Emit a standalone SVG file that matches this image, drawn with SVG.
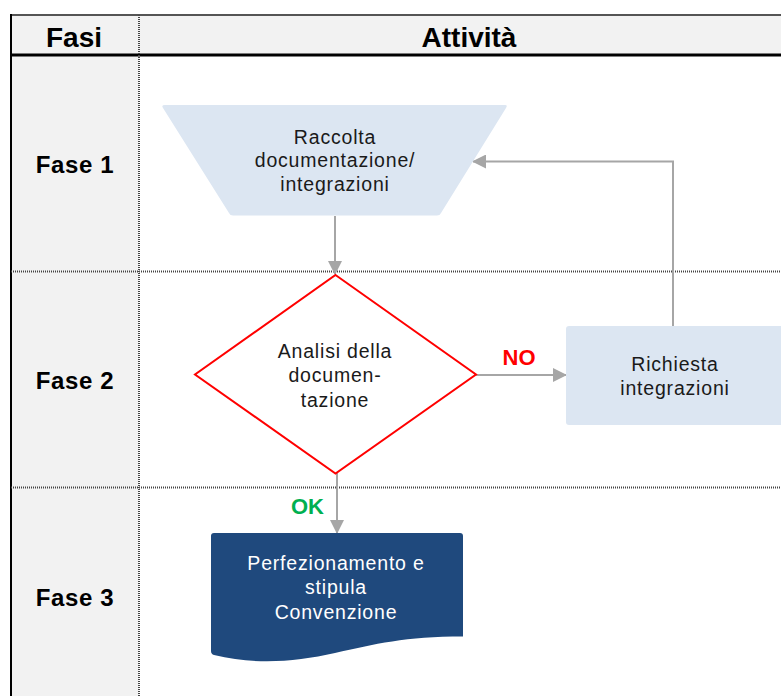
<svg xmlns="http://www.w3.org/2000/svg" width="781" height="696" viewBox="0 0 781 696">
<style>
.hdr{font-family:"Liberation Sans",Arial,sans-serif;font-weight:bold;font-size:28px;fill:#000;text-anchor:middle}
.fase{font-family:"Liberation Sans",Arial,sans-serif;font-weight:bold;font-size:24px;fill:#000;text-anchor:middle;letter-spacing:0.6px}
.t{font-family:"Liberation Sans",Arial,sans-serif;font-size:19.5px;fill:#1a1a1a;text-anchor:middle;letter-spacing:0.8px}
.tw{font-family:"Liberation Sans",Arial,sans-serif;font-size:19.5px;fill:#fff;text-anchor:middle;letter-spacing:0.8px}
.lbl{font-family:"Liberation Sans",Arial,sans-serif;font-weight:bold;font-size:22px;text-anchor:middle}
.dot{stroke:#444;stroke-width:2;stroke-dasharray:1 1;fill:none}
.conn{stroke:#a6a6a6;stroke-width:2;fill:none}
.light{fill:#dce6f2}
</style>
<defs>
<marker id="arr" markerUnits="userSpaceOnUse" markerWidth="14" markerHeight="14" viewBox="0 0 14 14" refX="13" refY="7" orient="auto">
<path d="M0,0 L14,7 L0,14 Z" fill="#a6a6a6"/>
</marker>
</defs>
<rect width="781" height="696" fill="#fff"/>
<g id="table">
<rect x="11" y="15" width="770" height="40" fill="#f2f2f2"/>
<rect x="11" y="55" width="128" height="641" fill="#f2f2f2"/>
<line x1="11" y1="15" x2="781" y2="15" stroke="#555" stroke-width="2"/>
<line x1="11" y1="55" x2="781" y2="55" stroke="#000" stroke-width="3"/>
<line x1="11" y1="14" x2="11" y2="696" stroke="#000" stroke-width="2"/>
<line x1="139" y1="15" x2="139" y2="696" class="dot"/>
<line x1="11" y1="271.5" x2="781" y2="271.5" class="dot"/>
<line x1="11" y1="487.5" x2="781" y2="487.5" class="dot"/>
<text x="74" y="47" class="hdr">Fasi</text>
<text x="469" y="47" class="hdr">Attività</text>
<text x="75" y="173" class="fase">Fase 1</text>
<text x="75" y="389" class="fase">Fase 2</text>
<text x="75" y="606" class="fase">Fase 3</text>
</g>
<g id="connectors">
<line x1="335" y1="216" x2="335" y2="274" class="conn" marker-end="url(#arr)"/>
<line x1="476" y1="375" x2="566" y2="375" class="conn" marker-end="url(#arr)"/>
<polyline points="673,326 673,161.5 473,161.5" class="conn" marker-end="url(#arr)"/>
<line x1="337" y1="473" x2="337" y2="533" class="conn" marker-end="url(#arr)"/>
<text x="519" y="365" class="lbl" fill="#ff0000">NO</text>
<text x="307.5" y="514" class="lbl" fill="#00b050">OK</text>
</g>
<g id="n1">
<path d="M165,105 H505 Q508,105 506,108 L441,213 Q440,215.5 437,215.5 H233 Q230,215.5 229,213 L163,108 Q161,105 165,105 Z" class="light"/>
<text x="335" y="144" class="t">Raccolta</text>
<text x="335" y="167.3" class="t">documentazione/</text>
<text x="335" y="190.5" class="t">integrazioni</text>
</g>
<g id="n2">
<polygon points="335.5,275 476,374.5 335.5,473.5 195,374.5" fill="#fff" stroke="#ff0000" stroke-width="2"/>
<text x="335" y="358" class="t">Analisi della</text>
<text x="335" y="382" class="t">documen-</text>
<text x="335" y="406.5" class="t">tazione</text>
</g>
<g id="n3">
<path d="M569,326 H790 V425 H569 Q566,425 566,422 V329 Q566,326 569,326 Z" class="light"/>
<text x="675" y="371" class="t">Richiesta</text>
<text x="675" y="394.5" class="t">integrazioni</text>
</g>
<g id="n4">
<path d="M214,533 H460 Q463,533 463,536 V636.5 C405,636.5 375,644 335,653 C295,662 255,665 214,655 Q211,654 211,651 V536 Q211,533 214,533 Z" fill="#1f497d"/>
<text x="336" y="570" class="tw">Perfezionamento e</text>
<text x="336" y="593.5" class="tw">stipula</text>
<text x="336" y="618.5" class="tw">Convenzione</text>
</g>
</svg>
